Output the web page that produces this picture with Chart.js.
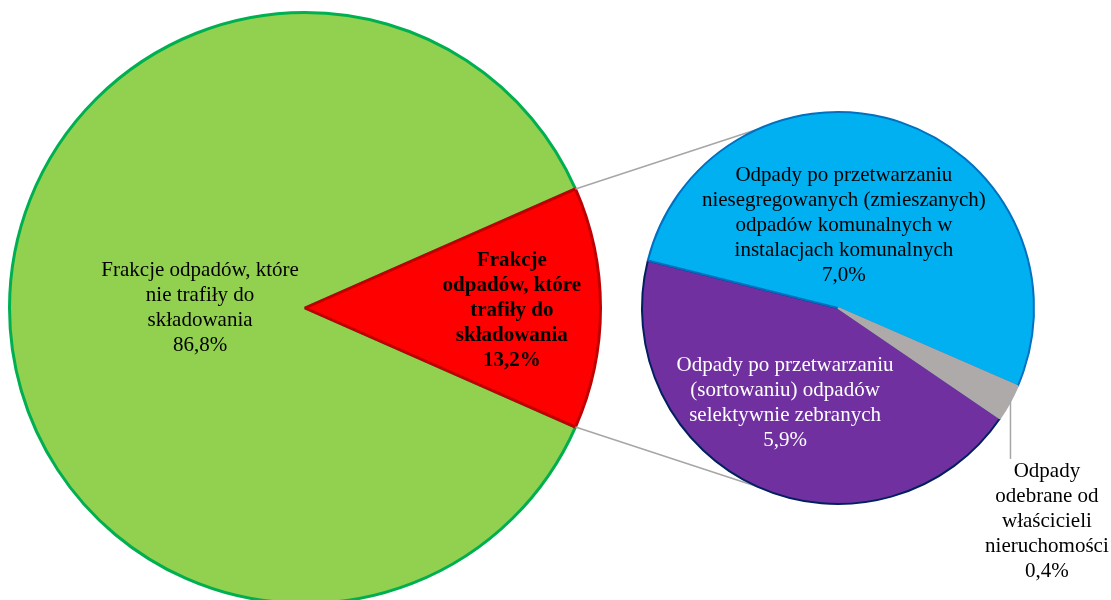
<!DOCTYPE html>
<html>
<head>
<meta charset="utf-8">
<script src="https://cdn.jsdelivr.net/npm/chart.js@4.4.1/dist/chart.umd.min.js"></script>
<style>
  html, body { margin: 0; padding: 0; background: #ffffff; }
  #wrap { position: relative; width: 1111px; height: 600px; overflow: hidden; }
  #wrap canvas { position: absolute; left: 0; top: 0; }
</style>
</head>
<body>
<div id="wrap">
  <canvas id="main" width="1111" height="620"></canvas>
  <canvas id="sub" width="1111" height="600"></canvas>
</div>
<script>
// ---- data ----
const mainCategories = [
  ["Frakcje odpadów, które", "nie trafiły do", "składowania"],
  ["Frakcje", "odpadów, które", "trafiły do", "składowania"]
];
const mainValues = [86.8, 13.2];
const mainValueLabels = ["86,8%", "13,2%"];

const subCategories = [
  ["Odpady po przetwarzaniu", "(sortowaniu) odpadów", "selektywnie zebranych"],
  ["Odpady po przetwarzaniu", "niesegregowanych (zmieszanych)", "odpadów komunalnych w", "instalacjach komunalnych"],
  ["Odpady", "odebrane od", "właścicieli", "nieruchomości"]
];
const subValues = [5.9, 7.0, 0.4];
const subValueLabels = ["5,9%", "7,0%", "0,4%"];

// ---- styles ----
const FONT = "'Liberation Serif', 'Times New Roman', serif";
const LINE_H = 25;

function drawLines(ctx, lines, x, yCenter, color, bold) {
  ctx.save();
  ctx.font = (bold ? 'bold ' : '') + '21px ' + FONT;
  ctx.fillStyle = color;
  ctx.textAlign = 'center';
  ctx.textBaseline = 'middle';
  const y0 = yCenter - (lines.length - 1) * LINE_H / 2;
  lines.forEach((l, i) => ctx.fillText(l, x, y0 + i * LINE_H));
  ctx.restore();
}

// label placement in units of radius, relative to pie centre
const mainLabelPos = [{dx: -0.355, dy: 0.0, color: '#000', bold: false},
                      {dx: 0.70, dy: 0.01, color: '#000', bold: true}];
const subLabelPos = [{dx: -0.27, dy: 0.485, color: '#ffffff', bold: false},
                     {dx: 0.03, dy: -0.42, color: '#000', bold: false},
                     {dx: 1.066, dy: 1.09, color: '#000', bold: false}];

const mainLabelsPlugin = {
  id: 'mainLabels',
  afterDatasetsDraw(chart) {
    const meta = chart.getDatasetMeta(0);
    const ctx = chart.ctx;
    meta.data.forEach((arc, i) => {
      const r = arc.outerRadius;
      const p = mainLabelPos[i];
      drawLines(ctx, mainCategories[i].concat([mainValueLabels[i]]),
        arc.x + p.dx * r, arc.y + p.dy * r, p.color, p.bold);
    });
  }
};

const mainChart = new Chart(document.getElementById('main'), {
  type: 'pie',
  data: {
    labels: mainCategories.map(c => c.join(' ')),
    datasets: [{
      data: mainValues,
      backgroundColor: ['#92D050', '#FF0000'],
      borderColor: ['#00B050', '#C00000'],
      borderWidth: 3
    }]
  },
  options: {
    responsive: false,
    devicePixelRatio: 1,
    animation: false,
    rotation: 113.76,
    layout: { padding: { left: 8, top: 11, right: 509, bottom: 15 } },
    plugins: { legend: { display: false }, tooltip: { enabled: false } }
  },
  plugins: [mainLabelsPlugin]
});

const subPlugin = {
  id: 'subLabels',
  beforeDatasetsDraw(chart) {
    // connector lines from the red slice to the secondary pie
    const red = mainChart.getDatasetMeta(0).data[1];
    const sub = chart.getDatasetMeta(0).data[0];
    const ctx = chart.ctx;
    const R = sub.outerRadius;
    const a1 = red.startAngle, a2 = red.endAngle;
    const p1 = {x: red.x + red.outerRadius * Math.cos(a1), y: red.y + red.outerRadius * Math.sin(a1)};
    const p2 = {x: red.x + red.outerRadius * Math.cos(a2), y: red.y + red.outerRadius * Math.sin(a2)};
    const t = 114.2 * Math.PI / 180;
    const q1 = {x: sub.x + R * Math.cos(-t), y: sub.y + R * Math.sin(-t)};
    const q2 = {x: sub.x + R * Math.cos(t), y: sub.y + R * Math.sin(t)};
    ctx.save();
    ctx.strokeStyle = '#A6A6A6';
    ctx.lineWidth = 1.5;
    ctx.beginPath();
    ctx.moveTo(p1.x, p1.y); ctx.lineTo(q1.x, q1.y);
    ctx.moveTo(p2.x, p2.y); ctx.lineTo(q2.x, q2.y);
    ctx.stroke();
    ctx.restore();
  },
  afterDatasetsDraw(chart) {
    const meta = chart.getDatasetMeta(0);
    const ctx = chart.ctx;
    meta.data.forEach((arc, i) => {
      const r = arc.outerRadius;
      const p = subLabelPos[i];
      drawLines(ctx, subCategories[i].concat([subValueLabels[i]]),
        arc.x + p.dx * r, arc.y + p.dy * r, p.color, p.bold);
    });
    // leader line for the small grey slice
    const g = meta.data[2];
    const R = g.outerRadius;
    const lx = g.x + R * 0.88;
    const sy = g.y + Math.sqrt(R * R - (lx - g.x) * (lx - g.x)) - 1;
    ctx.save();
    ctx.strokeStyle = '#A6A6A6';
    ctx.lineWidth = 1.5;
    ctx.beginPath();
    ctx.moveTo(lx, sy);
    ctx.lineTo(lx, g.y + R * 0.77);
    ctx.stroke();
    ctx.restore();
  }
};

new Chart(document.getElementById('sub'), {
  type: 'pie',
  data: {
    labels: subCategories.map(c => c.join(' ')),
    datasets: [{
      data: subValues,
      backgroundColor: ['#7030A0', '#00B0F0', '#AEAAAA'],
      borderColor: ['#002060', '#0070C0', '#AEAAAA'],
      borderWidth: 2
    }]
  },
  options: {
    responsive: false,
    devicePixelRatio: 1,
    animation: false,
    rotation: 124.3,
    layout: { padding: { left: 641, top: 111, right: 76, bottom: 95 } },
    plugins: { legend: { display: false }, tooltip: { enabled: false } }
  },
  plugins: [subPlugin]
});
</script>
</body>
</html>
